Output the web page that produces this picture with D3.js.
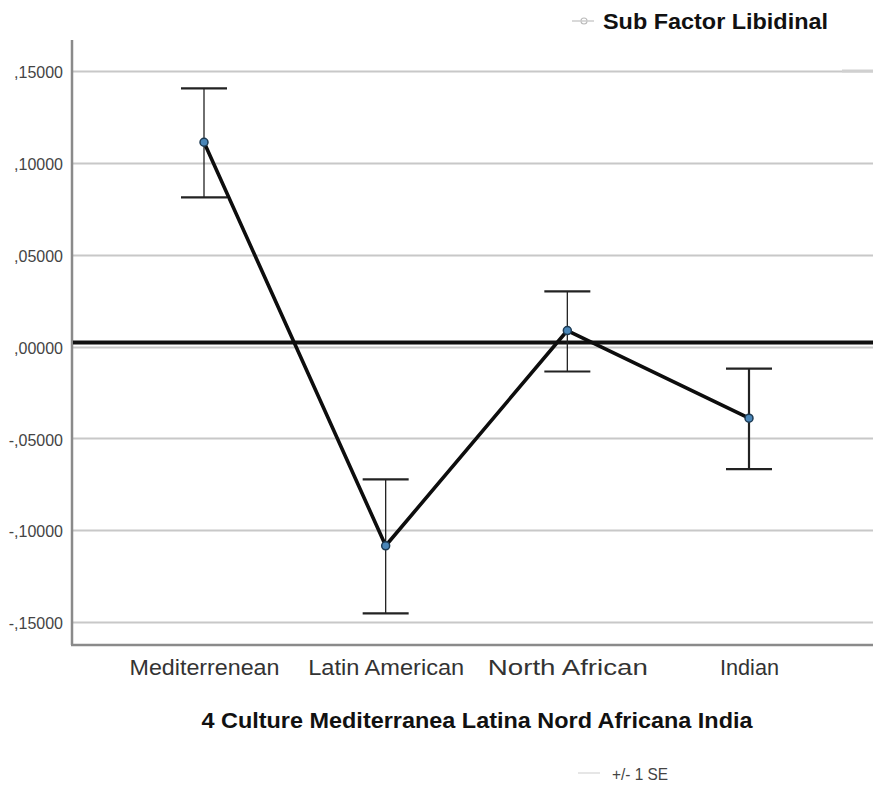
<!DOCTYPE html>
<html><head><meta charset="utf-8">
<script src="https://cdn.jsdelivr.net/npm/d3@7"></script>
<style>body{margin:0;background:#fff}svg{display:block}</style>
</head><body>
<svg id="c" width="873" height="789"></svg>
<script>
const categories = ["Mediterrenean", "Latin American", "North African", "Indian"];
const means = [0.1112, -0.1085, 0.0087, -0.0390];
const upper = [0.1405, -0.0724, 0.0300, -0.0120];
const lower = [0.0812, -0.1453, -0.0136, -0.0668];
const yTicks = [0.15, 0.10, 0.05, 0.00, -0.05, -0.10, -0.15];
const yTickLabels = [",15000", ",10000", ",05000", ",00000", "-,05000", "-,10000", "-,15000"];
const refValue = 0.0022;
const xTitle = "4 Culture Mediterranea Latina Nord Africana India";
const legendTitle = "Sub Factor Libidinal";
const errLabel = "+/- 1 SE";

(function () {
const svg = d3.select("#c");
const y = d3.scaleLinear().domain([-0.15, 0.15]).range([622, 71]);
const x = d3.scalePoint().domain(categories).range([204, 749]);
const pL = 72, pR = 873, pB = 645, pT = 40;
const narrow = "'Liberation Sans Narrow', 'Liberation Sans', Arial, sans-serif";

// gridlines
svg.append("g").selectAll("line").data(yTicks).join("line")
  .attr("x1", pL).attr("x2", pR)
  .attr("y1", d => Math.round(y(d)) + 0.5).attr("y2", d => Math.round(y(d)) + 0.5)
  .attr("stroke", "#c8c8c8").attr("stroke-width", 2);

// y axis
const yAxis = d3.axisLeft(y).tickValues(yTicks).tickSize(0).tickPadding(9)
  .tickFormat((d, i) => yTickLabels[i]);
const gy = svg.append("g").attr("transform", `translate(${pL},0)`).call(yAxis);
gy.select(".domain").remove();
gy.selectAll("text").attr("font-family", narrow)
  .attr("font-size", 16).attr("fill", "#444").attr("dy", "0.42em");
svg.append("line").attr("x1", pL).attr("x2", pL).attr("y1", pT).attr("y2", pB)
  .attr("stroke", "#8a8a8a").attr("stroke-width", 2.5);

// x axis
const xAxis = d3.axisBottom(x).tickSize(0).tickPadding(13);
const gx = svg.append("g").attr("transform", `translate(0,${pB})`).call(xAxis);
gx.select(".domain").remove();
const widths = {"Mediterrenean":150,"Latin American":156,"North African":160,"Indian":59};
gx.selectAll("text").attr("font-family", narrow)
  .attr("font-size", 22).attr("fill", "#333").attr("dy", "0.75em")
  .attr("textLength", d => widths[d])
  .attr("lengthAdjust", "spacingAndGlyphs");
svg.append("line").attr("x1", pL - 1).attr("x2", pR).attr("y1", pB).attr("y2", pB)
  .attr("stroke", "#8a8a8a").attr("stroke-width", 2.5);

// reference line
svg.append("line").attr("x1", pL + 1).attr("x2", pR)
  .attr("y1", y(refValue)).attr("y2", y(refValue))
  .attr("stroke", "#111").attr("stroke-width", 4);

// error bars
const eb = svg.append("g");
categories.forEach((c, i) => {
  const cx = x(c);
  const w = (i === 3) ? 2.2 : 1.3;
  eb.append("line").attr("x1", cx).attr("x2", cx).attr("y1", y(upper[i])).attr("y2", y(lower[i]))
    .attr("stroke", "#222").attr("stroke-width", w);
  [upper[i], lower[i]].forEach(v => {
    eb.append("line").attr("x1", cx - 23).attr("x2", cx + 23).attr("y1", y(v)).attr("y2", y(v))
      .attr("stroke", "#222").attr("stroke-width", 2.2);
  });
});

// mean line
svg.append("path").datum(means.map((m, i) => [x(categories[i]), y(m)]))
  .attr("d", d3.line()).attr("fill", "none").attr("stroke", "#0d0d0d")
  .attr("stroke-width", 3.6).attr("stroke-linejoin", "round");

// markers
svg.append("g").selectAll("circle").data(means).join("circle")
  .attr("cx", (d, i) => x(categories[i])).attr("cy", d => y(d)).attr("r", 4)
  .attr("fill", "#4a86b8").attr("stroke", "#1d3a52").attr("stroke-width", 1.5);

// axis title
svg.append("text").attr("x", 477).attr("y", 728).attr("text-anchor", "middle")
  .attr("font-family", narrow).attr("font-weight", "bold")
  .attr("font-size", 22).attr("fill", "#111")
  .attr("textLength", 551).attr("lengthAdjust", "spacingAndGlyphs").text(xTitle);

// legend top
svg.append("text").attr("x", 603).attr("y", 29)
  .attr("font-family", narrow).attr("font-weight", "bold")
  .attr("font-size", 22).attr("fill", "#111")
  .attr("textLength", 225).attr("lengthAdjust", "spacingAndGlyphs").text(legendTitle);
svg.append("circle").attr("cx", 584).attr("cy", 21).attr("r", 3)
  .attr("fill", "none").attr("stroke", "#bbb").attr("stroke-width", 1.2);
svg.append("line").attr("x1", 572).attr("x2", 594).attr("y1", 21).attr("y2", 21)
  .attr("stroke", "#ccc").attr("stroke-width", 1.5);
svg.append("line").attr("x1", 842).attr("x2", 873).attr("y1", 71).attr("y2", 71)
  .attr("stroke", "#d0d0d0").attr("stroke-width", 3);

// legend bottom
svg.append("text").attr("x", 612).attr("y", 780)
  .attr("font-family", narrow)
  .attr("font-size", 17).attr("fill", "#444")
  .attr("textLength", 56).attr("lengthAdjust", "spacingAndGlyphs").text(errLabel);
svg.append("line").attr("x1", 578).attr("x2", 600).attr("y1", 773).attr("y2", 773)
  .attr("stroke", "#e6e6e6").attr("stroke-width", 2);
})();
</script>
</body></html>
